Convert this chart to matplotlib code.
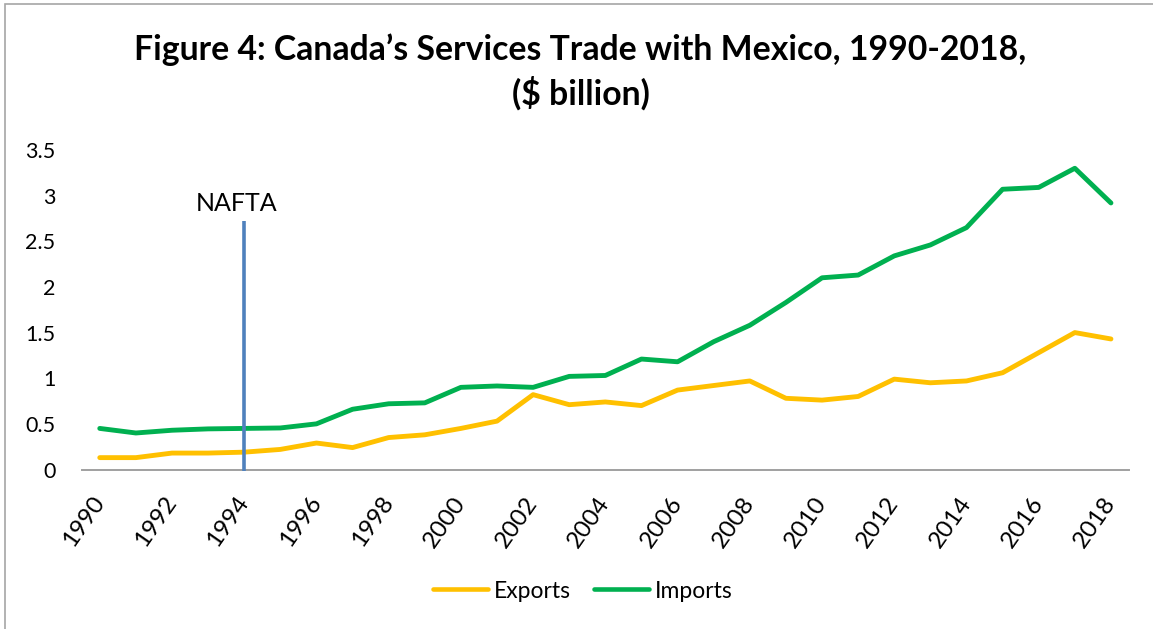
import matplotlib
matplotlib.use('Agg')
import matplotlib.pyplot as plt
from matplotlib.patches import Rectangle
from matplotlib.lines import Line2D

# ---- data ----
years = list(range(1990, 2019))
exports = [0.13, 0.13, 0.18, 0.18, 0.19, 0.22, 0.29, 0.24, 0.35, 0.38,
           0.45, 0.53, 0.82, 0.71, 0.74, 0.70, 0.87, 0.92, 0.97, 0.78,
           0.76, 0.80, 0.99, 0.95, 0.97, 1.06, 1.28, 1.50, 1.43]
imports = [0.45, 0.40, 0.43, 0.445, 0.45, 0.455, 0.50, 0.66, 0.72, 0.73,
           0.90, 0.915, 0.90, 1.02, 1.03, 1.21, 1.18, 1.40, 1.58, 1.83,
           2.10, 2.13, 2.34, 2.46, 2.65, 3.07, 3.09, 3.30, 2.92]
xtick_years = years[::2]
ytick_values = [0, 0.5, 1, 1.5, 2, 2.5, 3, 3.5]
ytick_labels = ['0', '0.5', '1', '1.5', '2', '2.5', '3', '3.5']
nafta_year = 1994
nafta_top = 2.72
title_line1 = 'Figure 4: Canada\u2019s Services Trade with Mexico, 1990-2018,'
title_line2 = '($ billion)'

FONT = 'Lato'
plt.rcParams['font.family'] = [FONT, 'DejaVu Sans']

W, H = 1153, 629
fig = plt.figure(figsize=(W / 100, H / 100), dpi=100)
fig.patch.set_facecolor('white')

def fx(px):
    return px / W

def fy(py):
    return 1 - py / H

left, right, top, bottom = 81.7, 1129, 150, 469.5
ax = fig.add_axes([fx(left), fy(bottom), fx(right) - fx(left), (bottom - top) / H])

idx = list(range(len(years)))
ax.plot(idx, exports, color='#FFC000', lw=3.5, solid_capstyle='round',
        solid_joinstyle='round', label='Exports', zorder=3)
ax.plot(idx, imports, color='#00B050', lw=3.5, solid_capstyle='round',
        solid_joinstyle='round', label='Imports', zorder=3)

nx = years.index(nafta_year)
ax.plot([nx, nx], [-0.02, nafta_top], color='#4F81BD', lw=2.6, zorder=4,
        clip_on=False, solid_capstyle='butt')
ax.text(nx - 0.2, 2.83, 'NAFTA', ha='center', va='baseline', fontsize=18,
        color='black')

ax.set_xlim(-0.5, len(years) - 0.5)
ax.set_ylim(0, 3.5)
ax.set_xticks([years.index(y) for y in xtick_years])
ax.set_xticklabels([str(y) for y in xtick_years], rotation=55,
                   ha='right', va='center', rotation_mode='anchor', fontsize=17.5)
ax.set_yticks(ytick_values)
ax.set_yticklabels(ytick_labels, fontsize=15.5)
ax.tick_params(axis='both', length=0)
ax.tick_params(axis='y', pad=19)
ax.tick_params(axis='x', pad=21)
for s in ['top', 'right', 'left']:
    ax.spines[s].set_visible(False)
ax.spines['bottom'].set_color('#A0A0A0')
ax.spines['bottom'].set_linewidth(1.4)
ax.set_facecolor('none')

# title
t1 = fig.text(fx(580), fy(60), title_line1, ha='center', va='baseline',
              fontsize=22, fontweight='bold')
t2 = fig.text(fx(580.5), fy(105), title_line2, ha='center', va='baseline',
              fontsize=22, fontweight='bold')
r = fig.canvas.get_renderer()
w1 = t1.get_window_extent(r).width
fs = 22 * 890 / w1
t1.set_fontsize(fs)
t2.set_fontsize(fs)

# legend
handles = [Line2D([], [], color='#FFC000', lw=3.3, solid_capstyle='round'),
           Line2D([], [], color='#00B050', lw=3.3, solid_capstyle='round')]
fig.legend(handles, ['Exports', 'Imports'], loc='center',
           bbox_to_anchor=(fx(583), fy(591)), ncol=2, frameon=False,
           fontsize=16.5, handlelength=2.4, handletextpad=0.25, columnspacing=1.0)

# chart border
fig.add_artist(Rectangle((fx(5), -0.1), 1.2, fy(4) + 0.1, transform=fig.transFigure,
                         fill=False, edgecolor='#A6A6A6', lw=1.2))

fig.savefig('out.png', dpi=100, facecolor='white')
